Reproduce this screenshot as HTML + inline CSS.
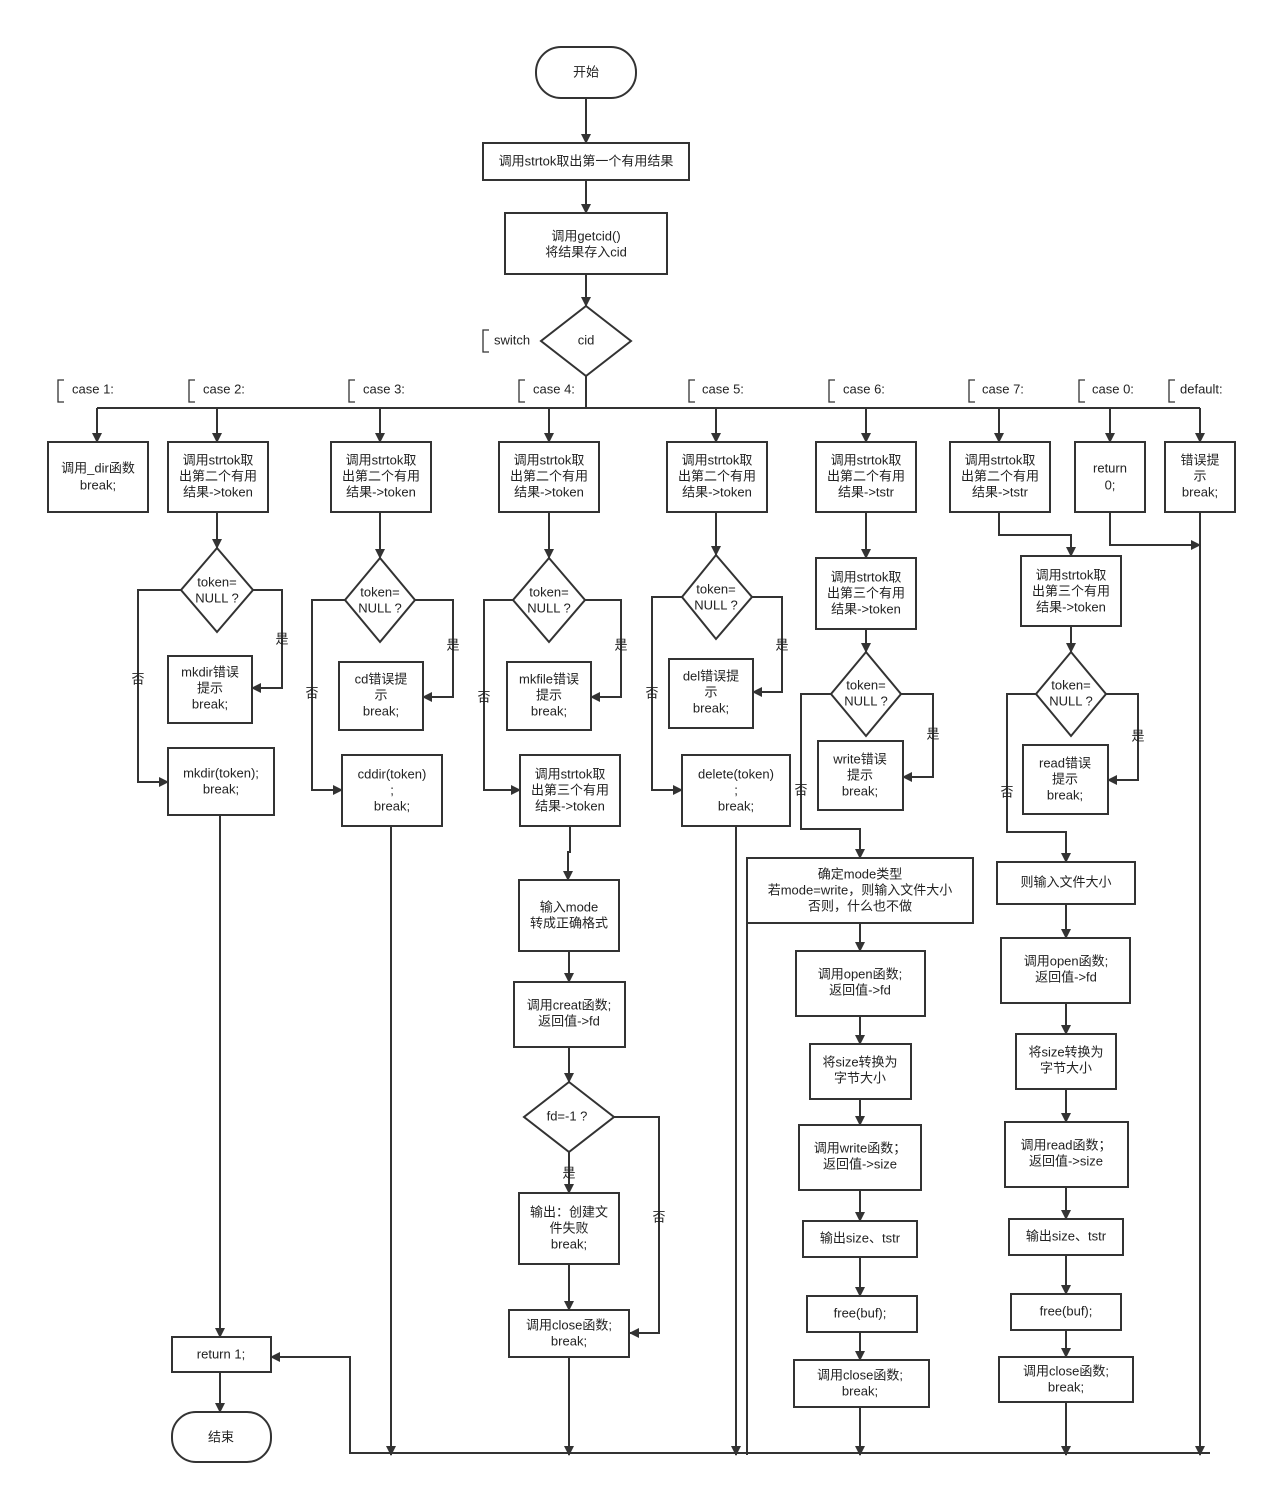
<!DOCTYPE html>
<html><head><meta charset="utf-8"><style>
html,body{margin:0;padding:0;background:#fff;}
svg{display:block;}
text{font-family:"Liberation Sans","Noto Sans CJK SC",sans-serif;font-size:13px;fill:#222;text-anchor:middle;dominant-baseline:middle;}
.s{fill:#fff;stroke:#333;stroke-width:2;}
.l{fill:none;stroke:#333;stroke-width:2;}
.b{fill:none;stroke:#333;stroke-width:1.3;}
.t{text-anchor:start;}
</style></head><body>
<svg width="1271" height="1495" viewBox="0 0 1271 1495" xmlns="http://www.w3.org/2000/svg">
<defs><marker id="a" markerWidth="10" markerHeight="10" refX="9" refY="5" orient="auto" markerUnits="userSpaceOnUse"><path d="M0,0 L10,5 L0,10 z" fill="#333"/></marker></defs>

<!-- top -->
<rect class="s" x="536" y="47" width="100" height="51" rx="25"/><text x="586" y="73">开始</text>
<path class="l" d="M586,98V143" marker-end="url(#a)"/>
<rect class="s" x="483" y="143" width="206" height="37"/><text x="586" y="162">调用strtok取出第一个有用结果</text>
<path class="l" d="M586,180V213" marker-end="url(#a)"/>
<rect class="s" x="505" y="213" width="162" height="61"/><text x="586" y="237">调用getcid()</text><text x="586" y="253">将结果存入cid</text>
<path class="l" d="M586,274V306" marker-end="url(#a)"/>
<polygon class="s" points="586,306 631,341 586,376 541,341"/><text x="586" y="341">cid</text>
<path class="b" d="M489,330H483V352H489"/><text class="t" x="494" y="341">switch</text>
<path class="l" d="M586,376V408M97,408H1200"/>

<!-- case labels -->
<path class="b" d="M64,380H58V402H64M195,380H189V402H195M355,380H349V402H355M525,380H519V402H525M695,380H689V402H695M835,380H829V402H835M975,380H969V402H975M1085,380H1079V402H1085M1175,380H1169V402H1175"/>
<text class="t" x="72" y="390">case 1:</text><text class="t" x="203" y="390">case 2:</text><text class="t" x="363" y="390">case 3:</text><text class="t" x="533" y="390">case 4:</text><text class="t" x="702" y="390">case 5:</text><text class="t" x="843" y="390">case 6:</text><text class="t" x="982" y="390">case 7:</text><text class="t" x="1092" y="390">case 0:</text><text class="t" x="1180" y="390">default:</text>

<path class="l" d="M97,408V442M217,408V442M380,408V442M549,408V442M716,408V442M866,408V442M999,408V442M1110,408V442M1200,408V442" marker-end="url(#a)"/>
<path class="l" d="M97,408V442" marker-end="url(#a)"/><path class="l" d="M217,408V442" marker-end="url(#a)"/><path class="l" d="M380,408V442" marker-end="url(#a)"/><path class="l" d="M549,408V442" marker-end="url(#a)"/><path class="l" d="M716,408V442" marker-end="url(#a)"/><path class="l" d="M866,408V442" marker-end="url(#a)"/><path class="l" d="M999,408V442" marker-end="url(#a)"/><path class="l" d="M1110,408V442" marker-end="url(#a)"/>

<!-- row boxes -->
<rect class="s" x="48" y="442" width="100" height="70"/><text x="98" y="469">调用_dir函数</text><text x="98" y="486">break;</text>
<rect class="s" x="168" y="442" width="100" height="70"/><text x="218" y="461">调用strtok取</text><text x="218" y="477">出第二个有用</text><text x="218" y="493">结果-&gt;token</text>
<rect class="s" x="331" y="442" width="100" height="70"/><text x="381" y="461">调用strtok取</text><text x="381" y="477">出第二个有用</text><text x="381" y="493">结果-&gt;token</text>
<rect class="s" x="499" y="442" width="100" height="70"/><text x="549" y="461">调用strtok取</text><text x="549" y="477">出第二个有用</text><text x="549" y="493">结果-&gt;token</text>
<rect class="s" x="667" y="442" width="100" height="70"/><text x="717" y="461">调用strtok取</text><text x="717" y="477">出第二个有用</text><text x="717" y="493">结果-&gt;token</text>
<rect class="s" x="816" y="442" width="100" height="70"/><text x="866" y="461">调用strtok取</text><text x="866" y="477">出第二个有用</text><text x="866" y="493">结果-&gt;tstr</text>
<rect class="s" x="950" y="442" width="100" height="70"/><text x="1000" y="461">调用strtok取</text><text x="1000" y="477">出第二个有用</text><text x="1000" y="493">结果-&gt;tstr</text>
<rect class="s" x="1075" y="442" width="70" height="70"/><text x="1110" y="469">return</text><text x="1110" y="486">0;</text>
<rect class="s" x="1165" y="442" width="70" height="70"/><text x="1200" y="461">错误提</text><text x="1200" y="477">示</text><text x="1200" y="493">break;</text>
<path class="l" d="M1110,512V545H1200" marker-end="url(#a)"/>
<path class="l" d="M1200,512V1455" marker-end="url(#a)"/>

<!-- case 2 -->
<path class="l" d="M217,512V548" marker-end="url(#a)"/>
<polygon class="s" points="217,548 253,590 217,632 181,590"/><text x="217" y="583">token=</text><text x="217" y="599">NULL ?</text>
<path class="l" d="M253,590H282V688H252" marker-end="url(#a)"/><text x="282" y="640">是</text>
<rect class="s" x="168" y="656" width="84" height="67"/><text x="210" y="673">mkdir错误</text><text x="210" y="689">提示</text><text x="210" y="705">break;</text>
<path class="l" d="M181,590H138V782H168" marker-end="url(#a)"/><text x="138" y="680">否</text>
<rect class="s" x="168" y="748" width="106" height="67"/><text x="221" y="774">mkdir(token);</text><text x="221" y="790">break;</text>
<path class="l" d="M220,815V1337" marker-end="url(#a)"/>
<rect class="s" x="172" y="1337" width="99" height="35"/><text x="221" y="1355">return 1;</text>
<path class="l" d="M220,1372V1412" marker-end="url(#a)"/>
<rect class="s" x="172" y="1412" width="99" height="50" rx="24"/><text x="221" y="1438">结束</text>

<!-- case 3 -->
<path class="l" d="M380,512V558" marker-end="url(#a)"/>
<polygon class="s" points="380,558 415,600 380,642 345,600"/><text x="380" y="593">token=</text><text x="380" y="609">NULL ?</text>
<path class="l" d="M415,600H453V697H423" marker-end="url(#a)"/><text x="453" y="646">是</text>
<rect class="s" x="339" y="662" width="84" height="68"/><text x="381" y="680">cd错误提</text><text x="381" y="696">示</text><text x="381" y="712">break;</text>
<path class="l" d="M345,600H312V790H342" marker-end="url(#a)"/><text x="312" y="694">否</text>
<rect class="s" x="342" y="755" width="100" height="71"/><text x="392" y="775">cddir(token)</text><text x="392" y="791">;</text><text x="392" y="807">break;</text>
<path class="l" d="M391,826V1455" marker-end="url(#a)"/>

<!-- case 4 -->
<path class="l" d="M549,512V558" marker-end="url(#a)"/>
<polygon class="s" points="549,558 585,600 549,642 513,600"/><text x="549" y="593">token=</text><text x="549" y="609">NULL ?</text>
<path class="l" d="M585,600H621V697H591" marker-end="url(#a)"/><text x="621" y="646">是</text>
<rect class="s" x="507" y="662" width="84" height="68"/><text x="549" y="680">mkfile错误</text><text x="549" y="696">提示</text><text x="549" y="712">break;</text>
<path class="l" d="M513,600H484V790H520" marker-end="url(#a)"/><text x="484" y="698">否</text>
<rect class="s" x="520" y="755" width="100" height="71"/><text x="570" y="775">调用strtok取</text><text x="570" y="791">出第三个有用</text><text x="570" y="807">结果-&gt;token</text>
<path class="l" d="M570,826V852H568V880" marker-end="url(#a)"/>
<rect class="s" x="519" y="880" width="100" height="71"/><text x="569" y="908">输入mode</text><text x="569" y="924">转成正确格式</text>
<path class="l" d="M569,951V982" marker-end="url(#a)"/>
<rect class="s" x="514" y="982" width="111" height="65"/><text x="569" y="1006">调用creat函数;</text><text x="569" y="1022">返回值-&gt;fd</text>
<path class="l" d="M569,1047V1082" marker-end="url(#a)"/>
<polygon class="s" points="569,1082 614,1117 569,1152 524,1117"/><text x="567" y="1117">fd=-1 ?</text>
<path class="l" d="M569,1152V1193" marker-end="url(#a)"/><text x="569" y="1174">是</text>
<rect class="s" x="519" y="1193" width="100" height="71"/><text x="569" y="1213">输出：创建文</text><text x="569" y="1229">件失败</text><text x="569" y="1245">break;</text>
<path class="l" d="M569,1264V1310" marker-end="url(#a)"/>
<path class="l" d="M614,1117H659V1333H630" marker-end="url(#a)"/><text x="659" y="1218">否</text>
<rect class="s" x="509" y="1310" width="120" height="47"/><text x="569" y="1326">调用close函数;</text><text x="569" y="1342">break;</text>
<path class="l" d="M569,1357V1455" marker-end="url(#a)"/>

<!-- case 5 -->
<path class="l" d="M716,512V555" marker-end="url(#a)"/>
<polygon class="s" points="716,555 752,597 716,639 682,597"/><text x="716" y="590">token=</text><text x="716" y="606">NULL ?</text>
<path class="l" d="M752,597H782V692H753" marker-end="url(#a)"/><text x="782" y="646">是</text>
<rect class="s" x="669" y="659" width="84" height="69"/><text x="711" y="677">del错误提</text><text x="711" y="693">示</text><text x="711" y="709">break;</text>
<path class="l" d="M682,597H652V790H682" marker-end="url(#a)"/><text x="652" y="694">否</text>
<rect class="s" x="682" y="755" width="108" height="71"/><text x="736" y="775">delete(token)</text><text x="736" y="791">;</text><text x="736" y="807">break;</text>
<path class="l" d="M736,826V1455" marker-end="url(#a)"/>

<!-- case 6 -->
<path class="l" d="M866,512V558" marker-end="url(#a)"/>
<rect class="s" x="816" y="558" width="100" height="71"/><text x="866" y="578">调用strtok取</text><text x="866" y="594">出第三个有用</text><text x="866" y="610">结果-&gt;token</text>
<path class="l" d="M866,629V652" marker-end="url(#a)"/>
<polygon class="s" points="866,652 901,694 866,736 831,694"/><text x="866" y="686">token=</text><text x="866" y="702">NULL ?</text>
<path class="l" d="M901,694H933V777H903" marker-end="url(#a)"/><text x="933" y="735">是</text>
<rect class="s" x="818" y="741" width="85" height="69"/><text x="860" y="760">write错误</text><text x="860" y="776">提示</text><text x="860" y="792">break;</text>
<path class="l" d="M831,694H801V829H860V858" marker-end="url(#a)"/><text x="801" y="791">否</text>
<rect class="s" x="747" y="858" width="226" height="65"/><text x="860" y="875">确定mode类型</text><text x="860" y="891">若mode=write，则输入文件大小</text><text x="860" y="907">否则，什么也不做</text>
<path class="l" d="M747,923V1455"/>
<path class="l" d="M860,923V951" marker-end="url(#a)"/>
<rect class="s" x="796" y="951" width="129" height="65"/><text x="860" y="975">调用open函数;</text><text x="860" y="991">返回值-&gt;fd</text>
<path class="l" d="M860,1016V1044" marker-end="url(#a)"/>
<rect class="s" x="810" y="1044" width="101" height="55"/><text x="860" y="1063">将size转换为</text><text x="860" y="1079">字节大小</text>
<path class="l" d="M860,1099V1125" marker-end="url(#a)"/>
<rect class="s" x="799" y="1125" width="122" height="65"/><text x="860" y="1149">调用write函数；</text><text x="860" y="1165">返回值-&gt;size</text>
<path class="l" d="M860,1190V1221" marker-end="url(#a)"/>
<rect class="s" x="803" y="1221" width="114" height="36"/><text x="860" y="1239">输出size、tstr</text>
<path class="l" d="M860,1257V1296" marker-end="url(#a)"/>
<rect class="s" x="807" y="1296" width="110" height="36"/><text x="860" y="1314">free(buf);</text>
<path class="l" d="M860,1332V1360" marker-end="url(#a)"/>
<rect class="s" x="794" y="1360" width="135" height="47"/><text x="860" y="1376">调用close函数;</text><text x="860" y="1392">break;</text>
<path class="l" d="M860,1407V1455" marker-end="url(#a)"/>

<!-- case 7 -->
<path class="l" d="M999,512V535H1071V556" marker-end="url(#a)"/>
<rect class="s" x="1021" y="556" width="100" height="70"/><text x="1071" y="576">调用strtok取</text><text x="1071" y="592">出第三个有用</text><text x="1071" y="608">结果-&gt;token</text>
<path class="l" d="M1071,626V652" marker-end="url(#a)"/>
<polygon class="s" points="1071,652 1106,694 1071,736 1036,694"/><text x="1071" y="686">token=</text><text x="1071" y="702">NULL ?</text>
<path class="l" d="M1106,694H1138V780H1108" marker-end="url(#a)"/><text x="1138" y="737">是</text>
<rect class="s" x="1023" y="745" width="85" height="69"/><text x="1065" y="764">read错误</text><text x="1065" y="780">提示</text><text x="1065" y="796">break;</text>
<path class="l" d="M1036,694H1007V832H1066V862" marker-end="url(#a)"/><text x="1007" y="793">否</text>
<rect class="s" x="997" y="862" width="138" height="42"/><text x="1066" y="883">则输入文件大小</text>
<path class="l" d="M1066,904V938" marker-end="url(#a)"/>
<rect class="s" x="1001" y="938" width="129" height="65"/><text x="1066" y="962">调用open函数;</text><text x="1066" y="978">返回值-&gt;fd</text>
<path class="l" d="M1066,1003V1034" marker-end="url(#a)"/>
<rect class="s" x="1016" y="1034" width="100" height="55"/><text x="1066" y="1053">将size转换为</text><text x="1066" y="1069">字节大小</text>
<path class="l" d="M1066,1089V1122" marker-end="url(#a)"/>
<rect class="s" x="1005" y="1122" width="123" height="65"/><text x="1066" y="1146">调用read函数；</text><text x="1066" y="1162">返回值-&gt;size</text>
<path class="l" d="M1066,1187V1219" marker-end="url(#a)"/>
<rect class="s" x="1009" y="1219" width="114" height="36"/><text x="1066" y="1237">输出size、tstr</text>
<path class="l" d="M1066,1255V1294" marker-end="url(#a)"/>
<rect class="s" x="1011" y="1294" width="110" height="36"/><text x="1066" y="1312">free(buf);</text>
<path class="l" d="M1066,1330V1357" marker-end="url(#a)"/>
<rect class="s" x="999" y="1357" width="134" height="45"/><text x="1066" y="1372">调用close函数;</text><text x="1066" y="1388">break;</text>
<path class="l" d="M1066,1402V1455" marker-end="url(#a)"/>

<!-- bottom bus -->
<path class="l" d="M1210,1453H350V1357H271" marker-end="url(#a)"/>
</svg>
</body></html>
